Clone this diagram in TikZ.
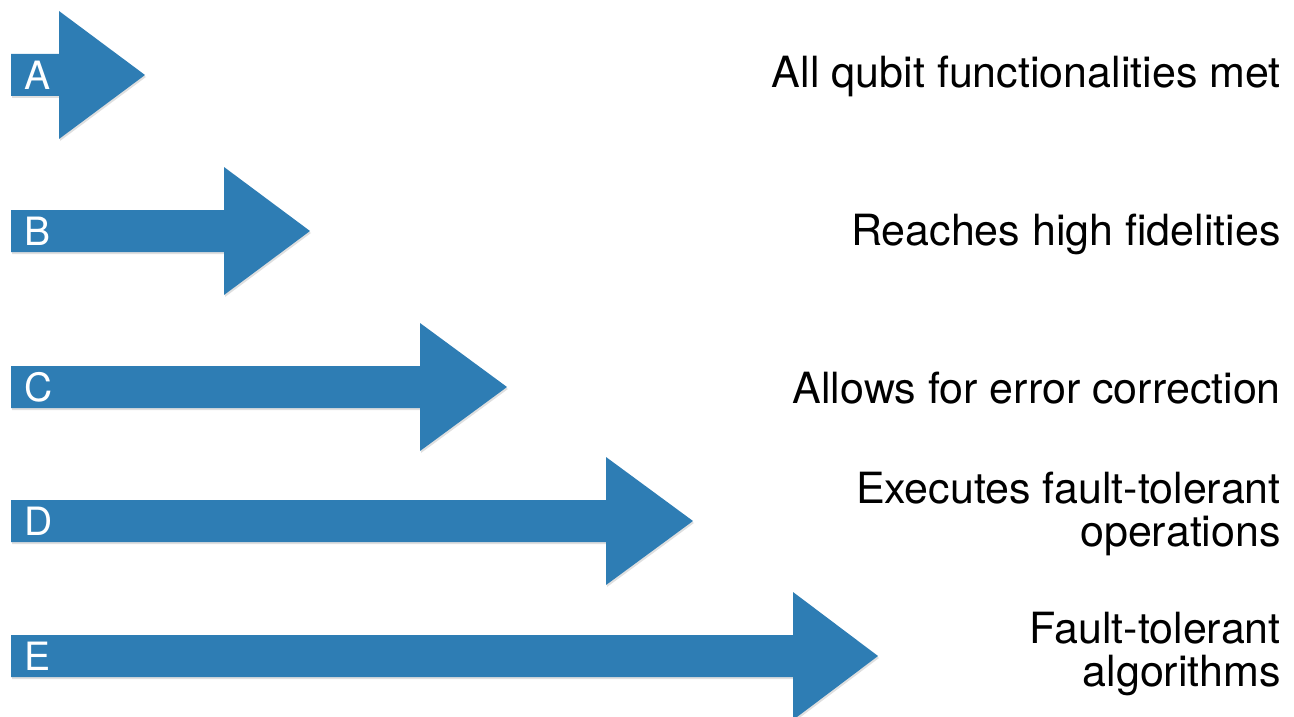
\documentclass[tikz,border=0pt]{standalone}
\usepackage{fontspec}
\setmainfont{TeX Gyre Heros}
\usetikzlibrary{shadows}
\definecolor{arrowblue}{RGB}{46,125,180}
\tikzset{
  bigarrowshape/.style={fill=arrowblue, draw=none,
    drop shadow={opacity=0.25, shadow xshift=1pt, shadow yshift=-2pt}},
  letterlabel/.style={anchor=base west, inner sep=0pt, text=white,
    font=\fontsize{39}{43}\selectfont},
  rightlabel/.style={anchor=base east, inner sep=0pt, align=right, text=black,
    font=\fontsize{43}{43}\selectfont}
}
% #1 name, #2 centre y, #3 head base x, #4 tip x, #5 letter
\newcommand{\stagearrow}[5]{%
  \path[bigarrowshape] (11,#2-21) -- (#3,#2-21) -- (#3,#2-64) -- (#4,#2)
     -- (#3,#2+64) -- (#3,#2+21) -- (11,#2+21) -- cycle;
  \node[letterlabel] (#1) at (24,#2+14) {#5};
}
\begin{document}
\begin{tikzpicture}[x=1pt,y=-1pt]
\useasboundingbox (0,0) rectangle (1294,717);
\stagearrow{la}{75}{59}{145}{A}
\stagearrow{lb}{231}{224}{310}{B}
\stagearrow{lc}{387}{420}{507}{C}
\stagearrow{ld}{521}{606}{693}{D}
\stagearrow{le}{656}{793}{878}{E}
\node[rightlabel] (ta) at (1281,88) {All qubit functionalities met};
\node[rightlabel] (tb) at (1281,245) {Reaches high fidelities};
\node[rightlabel] (tc) at (1281,403) {Allows for error correction};
\node[rightlabel] (td) at (1281,546) {Executes fault-tolerant\\operations};
\node[rightlabel] (te) at (1281,686) {Fault-tolerant\\algorithms};
\end{tikzpicture}
\end{document}
